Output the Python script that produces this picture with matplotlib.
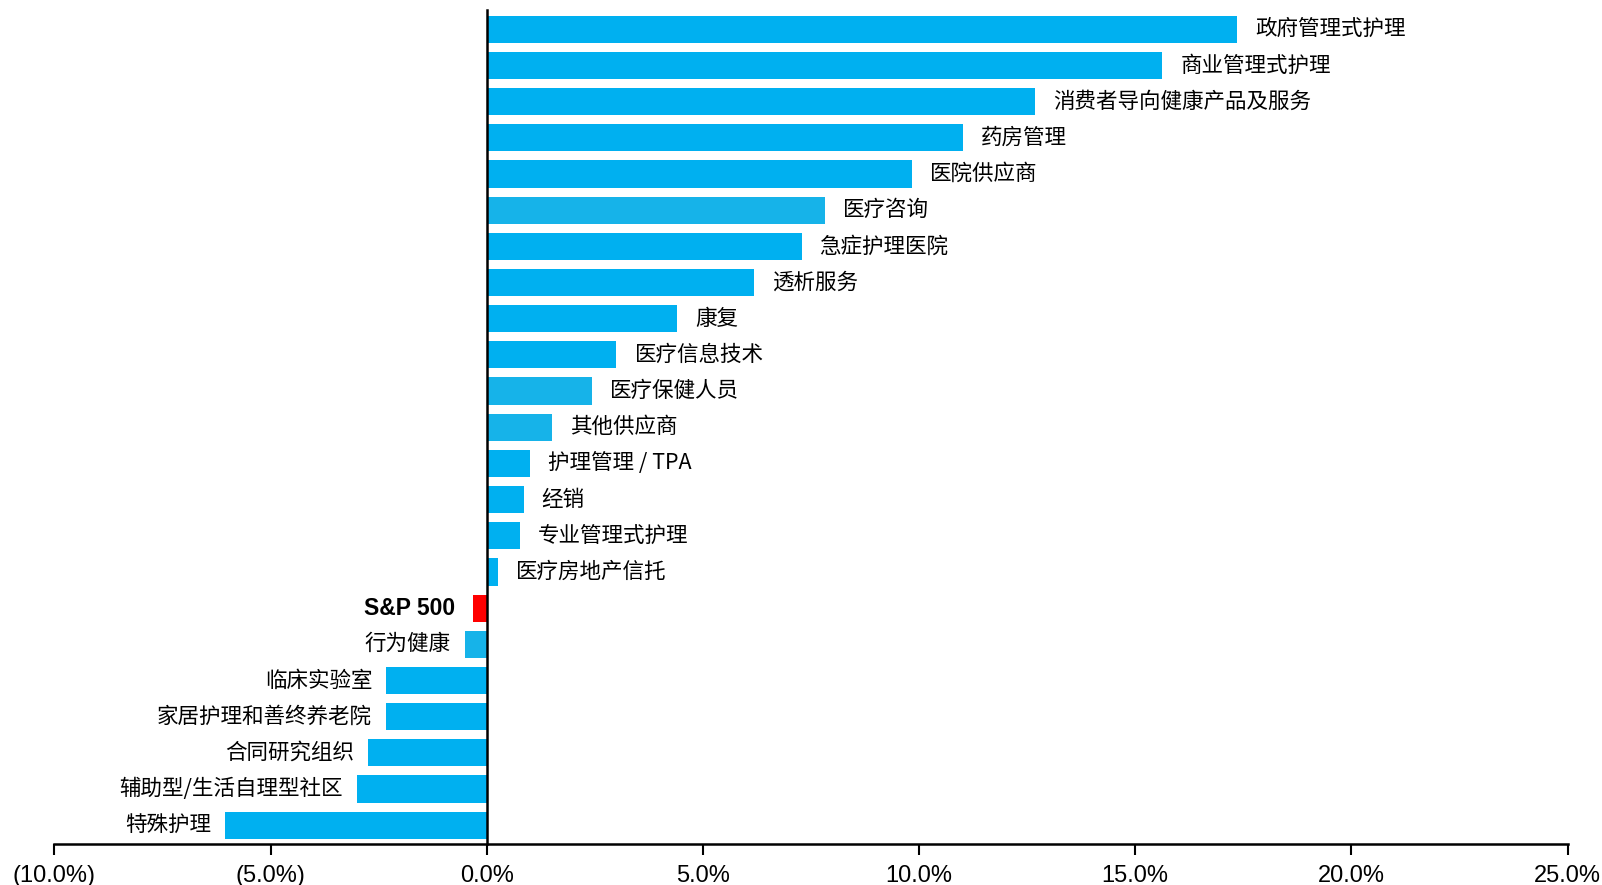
import matplotlib
matplotlib.use("Agg")
import matplotlib.pyplot as plt
import numpy as np

plt.rcParams['font.family'] = ['Noto Sans CJK SC', 'DejaVu Sans']

# data, top to bottom
categories = ["政府管理式护理", "商业管理式护理", "消费者导向健康产品及服务", "药房管理",
              "医院供应商", "医疗咨询", "急症护理医院", "透析服务", "康复",
              "医疗信息技术", "医疗保健人员", "其他供应商", "护理管理 / TPA", "经销",
              "专业管理式护理", "医疗房地产信托", "S&P 500", "行为健康", "临床实验室",
              "家居护理和善终养老院", "合同研究组织", "辅助型/生活自理型社区", "特殊护理"]
values = [17.36, 15.63, 12.68, 11.02, 9.84, 7.83, 7.28, 6.17, 4.40, 3.00, 2.44, 1.51,
          0.99, 0.85, 0.76, 0.26, -0.32, -0.51, -2.32, -2.34, -2.74, -3.00, -6.05]
light = ["医疗咨询", "医疗保健人员", "其他供应商", "行为健康"]
ticks = [-10, -5, 0, 5, 10, 15, 20, 25]

base_col = "#00B0F0"
light_col = "#16B3E9"
sp_col = "#FF0000"

colors = []
for c in categories:
    if c == "S&P 500":
        colors.append(sp_col)
    elif c in light:
        colors.append(light_col)
    else:
        colors.append(base_col)

fig = plt.figure(figsize=(16.02, 8.85), dpi=100)
ax = fig.add_axes([0.034, 0.0463, 0.9445, 0.9427])

y = np.arange(len(categories))[::-1]
ax.barh(y, values, height=0.75, color=colors, zorder=2)

for yi, v, c in zip(y, values, categories):
    if c == "S&P 500":
        ax.annotate(c, (v, yi), xytext=(-13, 0), textcoords="offset points",
                    ha="right", va="center", fontsize=16.5, fontweight="bold",
                    family=["Liberation Sans", "DejaVu Sans"])
    elif v >= 0:
        ax.annotate(c, (v, yi), xytext=(13, 0), textcoords="offset points",
                    ha="left", va="center", fontsize=15.5)
    else:
        ax.annotate(c, (v, yi), xytext=(-10, 0), textcoords="offset points",
                    ha="right", va="center", fontsize=15.5)

ax.set_xlim(-10, 25)
ax.set_ylim(-0.52, len(categories) - 0.46)
ax.set_xticks(ticks)
ax.set_xticklabels([f"({abs(t):.1f}%)" if t < 0 else f"{t:.1f}%" for t in ticks],
                   family=["Liberation Sans", "DejaVu Sans"], fontsize=17)
ax.tick_params(axis="x", length=8, width=1.5, direction="out", pad=7)
ax.set_yticks([])

ax.spines["right"].set_visible(False)
ax.spines["top"].set_visible(False)
ax.spines["left"].set_position(("data", 0))
ax.spines["left"].set_linewidth(1.8)
ax.spines["bottom"].set_linewidth(1.8)
ax.spines["left"].set_zorder(3)

fig.savefig("out.png", dpi=100)
